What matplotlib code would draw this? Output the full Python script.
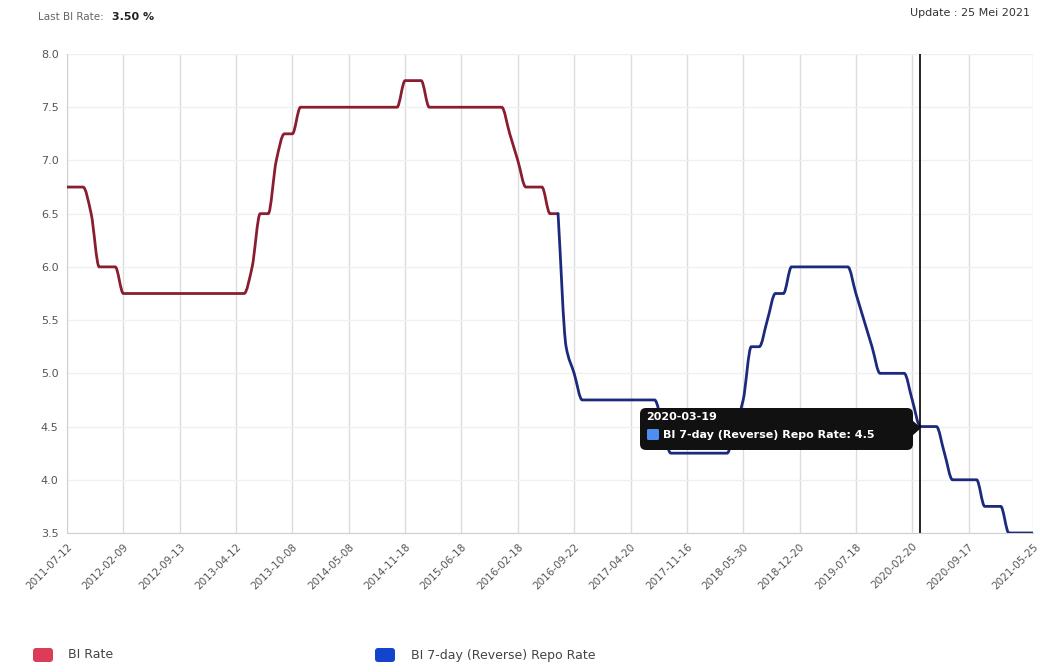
import matplotlib
matplotlib.use("Agg")
import matplotlib.pyplot as plt
from matplotlib.patches import FancyBboxPatch, Polygon, PathPatch
from matplotlib.path import Path
from matplotlib.transforms import IdentityTransform

# meeting dates (one point per meeting, drawn on an index axis)
dates = [
    "2011-07-12", "2011-08-09", "2011-09-08", "2011-10-11", "2011-11-10", "2011-12-08", "2012-01-12",
    "2012-02-09", "2012-03-08", "2012-04-12", "2012-05-10", "2012-06-12", "2012-07-12", "2012-08-09",
    "2012-09-13", "2012-10-11", "2012-11-13", "2012-12-11", "2013-01-10", "2013-02-14", "2013-03-12",
    "2013-04-12", "2013-05-14", "2013-06-13", "2013-07-11", "2013-08-15", "2013-08-29", "2013-09-12",
    "2013-10-08", "2013-11-12", "2013-12-12", "2014-01-09", "2014-02-13", "2014-03-13", "2014-04-08",
    "2014-05-08", "2014-06-12", "2014-07-10", "2014-08-14", "2014-09-11", "2014-10-09", "2014-11-13",
    "2014-11-18", "2014-12-11", "2015-01-15", "2015-02-17", "2015-03-17", "2015-04-14", "2015-05-19",
    "2015-06-18", "2015-07-14", "2015-08-18", "2015-09-17", "2015-10-15", "2015-11-17", "2016-01-14",
    "2016-02-18", "2016-03-17", "2016-04-21", "2016-05-19", "2016-06-16", "2016-07-21", "2016-08-19",
    "2016-09-22", "2016-10-20", "2016-11-17", "2016-12-15", "2017-01-19", "2017-02-16", "2017-03-16",
    "2017-04-20", "2017-05-18", "2017-06-15", "2017-07-20", "2017-08-22", "2017-09-22", "2017-10-19",
    "2017-11-16", "2017-12-14", "2018-01-18", "2018-02-15", "2018-03-22", "2018-04-19", "2018-05-17",
    "2018-05-30", "2018-06-29", "2018-07-19", "2018-08-15", "2018-09-27", "2018-10-23", "2018-11-15",
    "2018-12-20", "2019-01-17", "2019-02-21", "2019-03-21", "2019-04-25", "2019-05-16", "2019-06-20",
    "2019-07-18", "2019-08-22", "2019-09-19", "2019-10-24", "2019-11-21", "2019-12-19", "2020-01-23",
    "2020-02-20", "2020-03-19", "2020-04-14", "2020-05-19", "2020-06-18", "2020-07-16", "2020-08-19",
    "2020-09-17", "2020-10-13", "2020-11-19", "2020-12-17", "2021-01-21", "2021-02-18", "2021-03-18",
    "2021-04-20", "2021-05-25",
]

# BI Rate: dates[0] .. dates[61]
bi_rate = [
    6.75, 6.75, 6.75, 6.50, 6.00, 6.00, 6.00,
    5.75, 5.75, 5.75, 5.75, 5.75, 5.75, 5.75,
    5.75, 5.75, 5.75, 5.75, 5.75, 5.75, 5.75,
    5.75, 5.75, 6.00, 6.50, 6.50, 7.00, 7.25,
    7.25, 7.50, 7.50, 7.50, 7.50, 7.50, 7.50,
    7.50, 7.50, 7.50, 7.50, 7.50, 7.50, 7.50,
    7.75, 7.75, 7.75, 7.50, 7.50, 7.50, 7.50,
    7.50, 7.50, 7.50, 7.50, 7.50, 7.50, 7.25,
    7.00, 6.75, 6.75, 6.75, 6.50, 6.50,
]

# BI 7-day (Reverse) Repo Rate: dates[61] .. dates[120]
repo_start = 61
repo_rate = [
    6.50, 5.25, 5.00, 4.75, 4.75, 4.75, 4.75, 4.75, 4.75,
    4.75, 4.75, 4.75, 4.75, 4.50, 4.25, 4.25,
    4.25, 4.25, 4.25, 4.25, 4.25, 4.25, 4.50,
    4.75, 5.25, 5.25, 5.50, 5.75, 5.75, 6.00,
    6.00, 6.00, 6.00, 6.00, 6.00, 6.00, 6.00,
    5.75, 5.50, 5.25, 5.00, 5.00, 5.00, 5.00,
    4.75, 4.50, 4.50, 4.50, 4.25, 4.00, 4.00,
    4.00, 4.00, 3.75, 3.75, 3.75, 3.50, 3.50,
    3.50, 3.50,
]

tick_idx = [0, 7, 14, 21, 28, 35, 42, 49, 56, 63, 70, 77, 84, 91, 98, 105, 112, 120]
hover_date = "2020-03-19"


def smooth_path(xs, ys):
    # monotone cubic curve through the points (rendering only)
    n = len(xs)
    d = [(ys[i + 1] - ys[i]) / (xs[i + 1] - xs[i]) for i in range(n - 1)]
    m = [0.0] * n
    m[0], m[-1] = d[0], d[-1]
    for i in range(1, n - 1):
        if d[i - 1] * d[i] <= 0:
            m[i] = 0.0
        else:
            m[i] = 2 / (1 / d[i - 1] + 1 / d[i])
    verts = [(xs[0], ys[0])]
    codes = [Path.MOVETO]
    for i in range(n - 1):
        h = xs[i + 1] - xs[i]
        verts += [(xs[i] + h / 3, ys[i] + m[i] * h / 3),
                  (xs[i + 1] - h / 3, ys[i + 1] - m[i + 1] * h / 3),
                  (xs[i + 1], ys[i + 1])]
        codes += [Path.CURVE4] * 3
    return Path(verts, codes)


W, H = 1047, 663
fig = plt.figure(figsize=(W / 100, H / 100), dpi=100)
ax = fig.add_axes([67 / W, 1 - 533 / H, (1033 - 67) / W, (533 - 54) / H])

x_bi = list(range(len(bi_rate)))
x_repo = list(range(repo_start, repo_start + len(repo_rate)))
ax.add_patch(PathPatch(smooth_path(x_bi, bi_rate), fc="none", ec="#8a1e30", lw=2,
                       joinstyle="round", capstyle="round", zorder=3))
ax.add_patch(PathPatch(smooth_path(x_repo, repo_rate), fc="none", ec="#1c2a7e", lw=2,
                       joinstyle="round", capstyle="round", zorder=3))

ax.set_xlim(0, len(dates) - 1)
ax.set_ylim(3.5, 8.0)
ax.set_yticks([3.5, 4.0, 4.5, 5.0, 5.5, 6.0, 6.5, 7.0, 7.5, 8.0])
ax.set_yticklabels(["%.1f" % v for v in ax.get_yticks()], fontsize=8, color="#555555")
ax.set_xticks(tick_idx)
ax.set_xticklabels([dates[i] for i in tick_idx], rotation=45, ha="right",
                   rotation_mode="anchor", fontsize=7.5, color="#555555")
ax.tick_params(length=0, pad=6)
ax.grid(axis="x", color="#dcdcdc", lw=1)
ax.grid(axis="y", color="#f0f0f0", lw=1)
ax.set_axisbelow(True)
for s in ["top", "right"]:
    ax.spines[s].set_visible(False)
for s in ["left", "bottom"]:
    ax.spines[s].set_color("#d0d0d0")

# hover line and tooltip
hi = dates.index(hover_date)
hv = repo_rate[hi - repo_start]
ax.axvline(hi, color="black", lw=1.2, zorder=4)

ident = IdentityTransform()
box = FancyBboxPatch((640, H - 450), 273, 42, boxstyle="round,pad=0,rounding_size=6",
                     fc="#111111", ec="none", transform=ident, zorder=10)
fig.patches.append(box)
fig.patches.append(Polygon([(912, H - 420), (921, H - 428), (912, H - 436)], closed=True,
                           fc="#111111", ec="none", transform=ident, zorder=10))
fig.patches.append(FancyBboxPatch((647, H - 440), 12, 11, boxstyle="round,pad=0,rounding_size=1.5",
                                  fc="#4d8ef2", ec="none", transform=ident, zorder=11))
fig.text(646 / W, 1 - 417 / H, hover_date, color="white", fontsize=8, fontweight="bold",
         va="center", ha="left", zorder=12)
fig.text(663 / W, 1 - 435 / H, "BI 7-day (Reverse) Repo Rate: %.1f" % hv, color="white",
         fontsize=8, fontweight="bold", va="center", ha="left", zorder=12)

# header
fig.text(38 / W, 1 - 17 / H, "Last BI Rate:", fontsize=7.5, color="#666666", va="center")
fig.text(112 / W, 1 - 17 / H, "%.2f %%" % repo_rate[-1], fontsize=8, color="#222222",
         fontweight="bold", va="center")
fig.text(1030 / W, 1 - 13 / H, "Update : 25 Mei 2021", fontsize=8, color="#333333",
         va="center", ha="right")

# legend
fig.patches.append(FancyBboxPatch((33, H - 662), 20, 14, boxstyle="round,pad=0,rounding_size=3",
                                  fc="#dc3c58", ec="none", transform=ident))
fig.patches.append(FancyBboxPatch((375, H - 662), 20, 14, boxstyle="round,pad=0,rounding_size=3",
                                  fc="#1444cc", ec="none", transform=ident))
fig.text(68 / W, 1 - 655 / H, "BI Rate", fontsize=9, color="#444444", va="center")
fig.text(411 / W, 1 - 655 / H, "BI 7-day (Reverse) Repo Rate", fontsize=9, color="#444444", va="center")

fig.savefig("out.png", dpi=100)
